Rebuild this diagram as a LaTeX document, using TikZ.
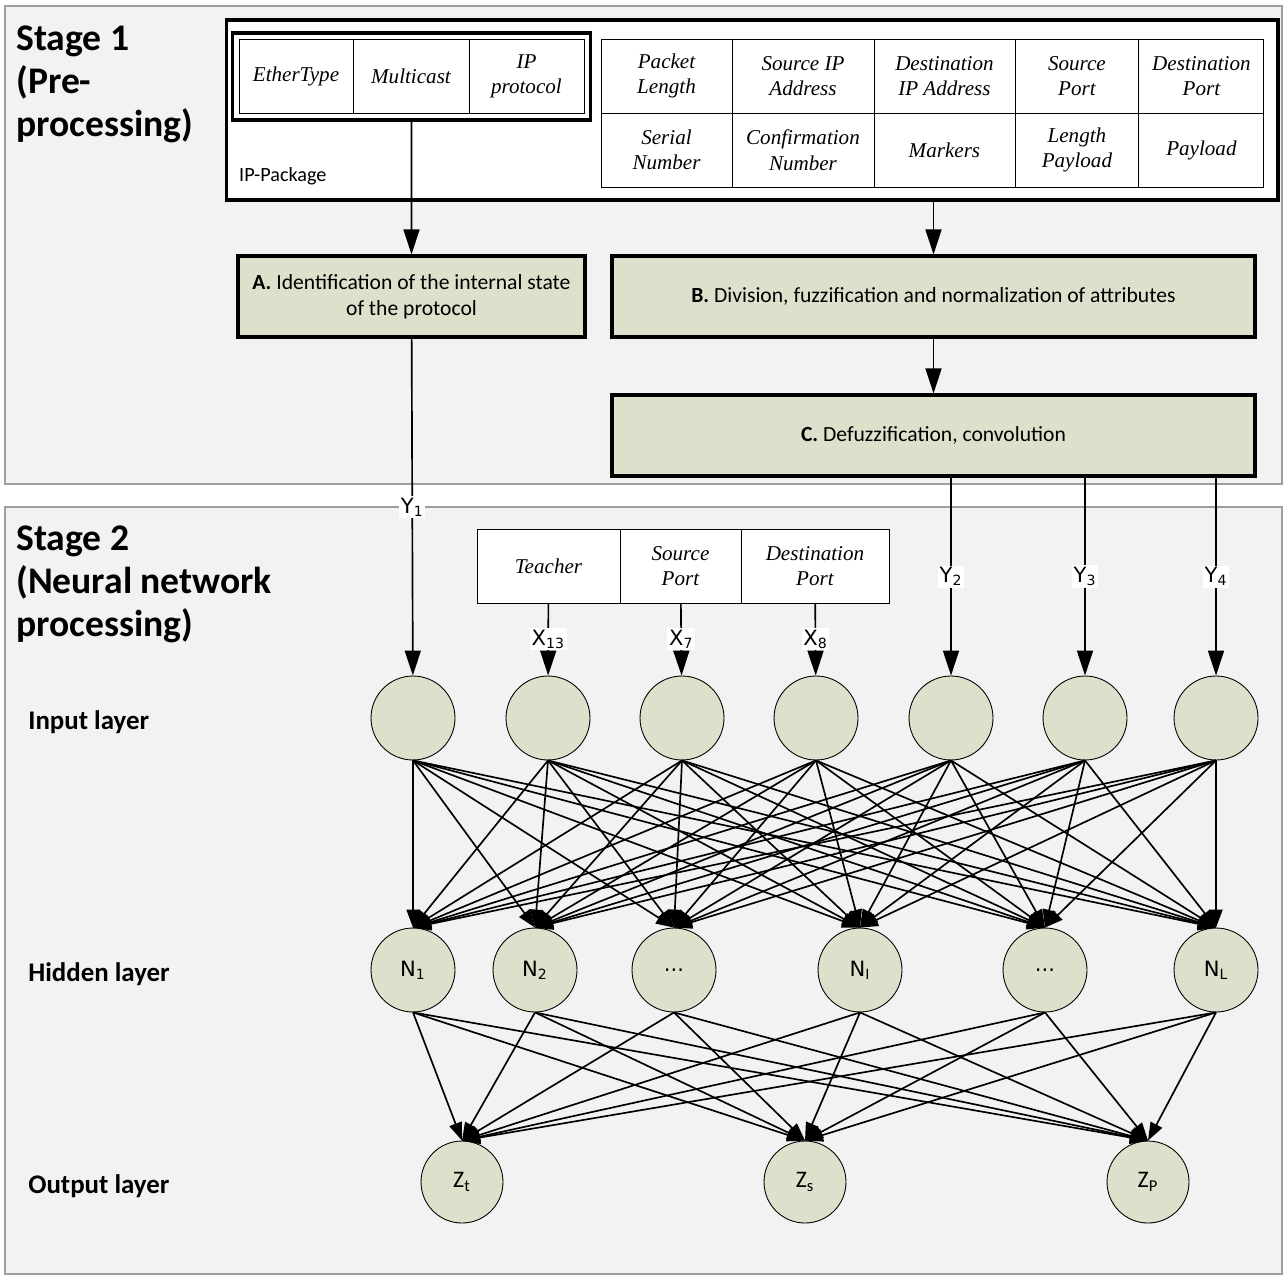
\documentclass[tikz,border=0pt]{standalone}
\usepackage{fontspec}
\setmainfont{Carlito}
\newfontfamily\cellfont{Liberation Serif}
\newfontfamily\varfont{DejaVu Sans}
\usetikzlibrary{arrows.meta,positioning,fit}

\definecolor{panelgray}{HTML}{F2F2F2}
\definecolor{boxfill}{HTML}{DDE0CB}

\tikzset{
  panel/.style={draw=gray!75, fill=panelgray, line width=0.6pt},
  cell/.style={draw, fill=white, line width=0.5pt, outer sep=0pt, minimum height=1.48cm,
    align=center, inner sep=1pt, font=\cellfont\itshape\fontsize{12}{14.5}\selectfont},
  procbox/.style={draw, fill=boxfill, line width=1.8pt, align=center, minimum height=1.62cm,
    font=\fontsize{12.3}{14.5}\selectfont},
  neuron/.style={circle, draw, fill=boxfill, line width=0.5pt, minimum size=1.68cm,
    inner sep=0pt, font=\varfont\fontsize{12}{14}\selectfont},
  outneuron/.style={neuron, minimum size=1.64cm, font=\fontsize{13.5}{15}\selectfont},
  arr/.style={line width=0.95pt, -{Triangle[length=0.5cm, width=0.32cm]}},
  link/.style={line width=0.95pt, -{Triangle[length=0.36cm, width=0.26cm]}},
  var/.style={fill=white, inner sep=1pt, font=\varfont\fontsize{12}{14}\selectfont},
  layer/.style={anchor=west, inner sep=0pt, font=\bfseries\fontsize{15.3}{18}\selectfont},
  stage/.style={anchor=north west, align=left, inner sep=0pt,
    font=\bfseries\fontsize{21.4}{24.5}\selectfont},
}

\begin{document}
\begin{tikzpicture}[x=0.02cm, y=-0.02cm]
    \fill[white] (0,0) rectangle (1283,1274);
    \useasboundingbox (0,0) rectangle (1283,1274);

    % Panels
    \draw[panel] (5,6) rectangle (1282,484);
    \draw[panel] (5,507) rectangle (1282,1274);
    \node[stage] (stage1) at (16,25) {Stage 1\\(Pre-\\processing)};
    \node[stage] (stage2) at (16,525) {Stage 2\\(Neural network\\processing)};

    % IP package
    \node[draw, fill=white, line width=1.8pt, minimum width=21.04cm, minimum height=3.6cm] (pkg) at (752,110) {};
    \node[anchor=west, font=\fontsize{11.5}{13}\selectfont] (pkglabel) at (233,176) {IP-Package};

    \node[cell, minimum width=2.28cm] (ether) at (296,76.5) {EtherType};
    \node[cell, minimum width=2.32cm, right=0pt of ether] (mcast) {Multicast};
    \node[cell, minimum width=2.3cm, right=0pt of mcast] (proto) {IP\\protocol};
    \node[draw, line width=1.8pt, inner sep=0.13cm, fit=(ether)(proto)] (ipfields) {};

    \node[cell, minimum width=2.62cm] (plen) at (666.5,76) {Packet\\Length};
    \node[cell, minimum width=2.84cm, right=0pt of plen] (srcip) {Source IP\\Address};
    \node[cell, minimum width=2.82cm, right=0pt of srcip] (dstip) {Destination\\IP Address};
    \node[cell, minimum width=2.48cm, right=0pt of dstip] (sport) {Source\\Port};
    \node[cell, minimum width=2.5cm, right=0pt of sport] (dport) {Destination\\Port};
    \node[cell, minimum width=2.62cm, below=0pt of plen] (serial) {Serial\\Number};
    \node[cell, minimum width=2.84cm, below=0pt of srcip] (confirm) {Confirmation\\Number};
    \node[cell, minimum width=2.82cm, below=0pt of dstip] (markers) {Markers};
    \node[cell, minimum width=2.48cm, below=0pt of sport] (lpay) {Length\\Payload};
    \node[cell, minimum width=2.5cm, below=0pt of dport] (payload) {Payload};

    % Processing steps
    \node[procbox, minimum width=6.94cm] (boxA) at (411.5,296.5) {\textbf{A.} Identification of the internal state\\of the protocol};
    \node[procbox, minimum width=12.86cm] (boxB) at (933.5,296.5) {\textbf{B.} Division, fuzzification and normalization of attributes};
    \node[procbox, minimum width=12.86cm] (boxC) at (933.5,435.5) {\textbf{C.} Defuzzification, convolution};

    \draw[arr] (ipfields.south) -- (boxA.north);
    \draw[arr] (boxB.north |- pkg.south) -- (boxB.north);
    \draw[arr] (boxB) -- (boxC);

    % Teacher table
    \node[cell, minimum width=2.86cm] (teach) at (548.5,566) {Teacher};
    \node[cell, minimum width=2.42cm, right=0pt of teach] (tsport) {Source\\Port};
    \node[cell, minimum width=2.96cm, right=0pt of tsport] (tdport) {Destination\\Port};

    % Layers
    \node[layer] (inlabel) at (28,722) {Input layer};
    \node[layer] (hidlabel) at (28,974) {Hidden layer};
    \node[layer] (outlabel) at (28,1186) {Output layer};

    \foreach \x [count=\i] in {413,548,682,816,951,1085,1216}
        \node[neuron] (in\i) at (\x,718) {};
    \foreach \x/\t [count=\i] in {413/{N\textsubscript{1}},535/{N\textsubscript{2}},674/{...},860/{N\textsubscript{I}},1045/{...},1216/{N\textsubscript{L}}}
        \node[neuron] (hid\i) at (\x,970) {\t};
    \foreach \x/\t [count=\i] in {462/{Z\textsubscript{t}},805/{Z\textsubscript{s}},1148/{Z\textsubscript{P}}}
        \node[outneuron] (out\i) at (\x,1182) {\t};

    % Inputs
    \draw[arr] (boxA) -- node[var] {Y\textsubscript{1}} (in1);
    \draw[arr] (teach) -- node[var] {X\textsubscript{13}} (in2);
    \draw[arr] (tsport) -- node[var] {X\textsubscript{7}} (in3);
    \draw[arr] (tdport) -- node[var] {X\textsubscript{8}} (in4);
    \draw[arr] (boxC.south -| in5) -- node[var] {Y\textsubscript{2}} (in5.north);
    \draw[arr] (boxC.south -| in6) -- node[var] {Y\textsubscript{3}} (in6.north);
    \draw[arr] (boxC.south -| in7) -- node[var] {Y\textsubscript{4}} (in7.north);

    % Connections
    \foreach \i in {1,...,7}
        \foreach \j in {1,...,6}
            \draw[link] (in\i.south) -- (hid\j.north);
    \foreach \j in {1,...,6}
        \foreach \k in {1,2,3}
            \draw[link] (hid\j.south) -- (out\k.north);
\end{tikzpicture}
\end{document}
